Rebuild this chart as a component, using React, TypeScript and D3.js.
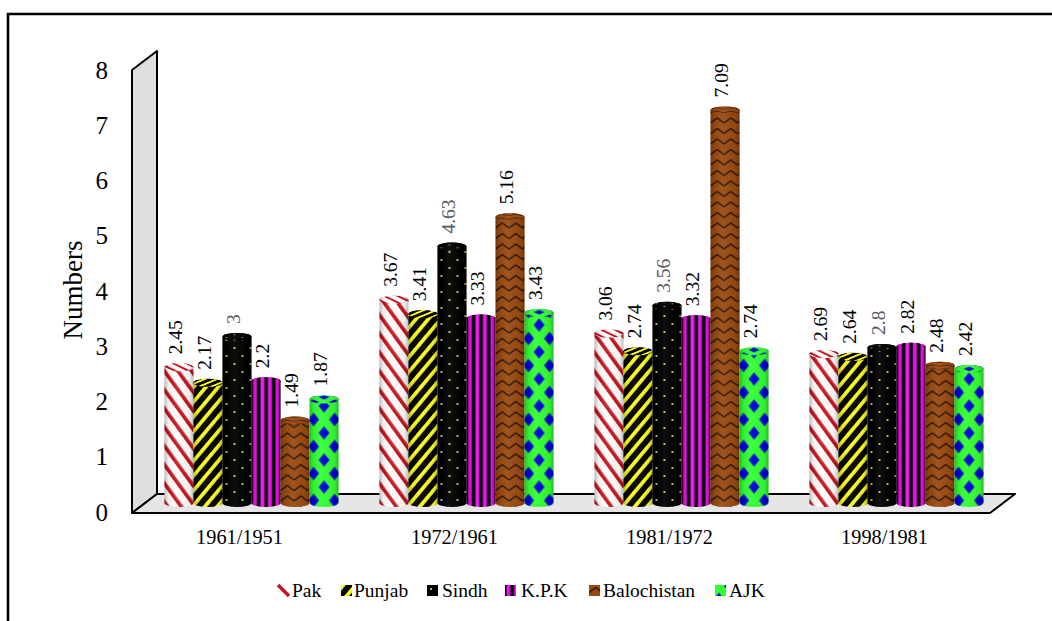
import React from "react";
import * as d3 from "d3";

const categories = ["1961/1951", "1972/1961", "1981/1972", "1998/1981"];
const seriesNames = ["Pak", "Punjab", "Sindh", "K.P.K", "Balochistan", "AJK"];
const pak = [2.45, 3.67, 3.06, 2.69];
const punjab = [2.17, 3.41, 2.74, 2.64];
const sindh = [3, 4.63, 3.56, 2.8];
const kpk = [2.2, 3.33, 3.32, 2.82];
const balochistan = [1.49, 5.16, 7.09, 2.48];
const ajk = [1.87, 3.43, 2.74, 2.42];
const seriesValues = [pak, punjab, sindh, kpk, balochistan, ajk];
const labelText = [
  ["2.45", "3.67", "3.06", "2.69"],
  ["2.17", "3.41", "2.74", "2.64"],
  ["3", "4.63", "3.56", "2.8"],
  ["2.2", "3.33", "3.32", "2.82"],
  ["1.49", "5.16", "7.09", "2.48"],
  ["1.87", "3.43", "2.74", "2.42"],
];
const labelColors = ["#000", "#000", "#595959", "#000", "#000", "#000"];
const yTicks = [0, 1, 2, 3, 4, 5, 6, 7, 8];

const serif = "'Liberation Serif', serif";
const W = 1052;
const H = 621;

const yBar = d3.scaleLinear().domain([0, 8]).range([503, 60]);
const yAxis = d3.scaleLinear().domain([0, 8]).range([512, 70]);
const x0 = d3.scaleBand<string>().domain(categories).range([144, 1004]).paddingInner(0.19).paddingOuter(0.095);
const x1 = d3.scaleBand<string>().domain(seriesNames).range([0, x0.bandwidth()]);
const legendKeyX = [278, 341, 427, 505, 589, 715];
const legendTextX = [292, 354, 442, 521, 603, 729];

function cylinder(w: number, top: number, bottom: number, ry: number) {
  const rx = w / 2;
  return `M0,${top}A${rx},${ry} 0 0 1 ${w},${top}L${w},${bottom}A${rx},${ry} 0 0 1 0,${bottom}Z`;
}

function Pat({ id, w, h, tf, children }: any) {
  return (
    <pattern id={id} width={w} height={h} patternUnits="userSpaceOnUse" patternTransform={tf}>
      {children}
    </pattern>
  );
}

function patternSet(prefix: string, s: string) {
  return [
    <Pat key="0" id={`${prefix}0`} w={11} h={10} tf={`${s} rotate(-36)`}>
      <rect width={11} height={10} fill="#fff" />
      <rect width={3.7} height={10} fill="#c8141c" />
    </Pat>,
    <Pat key="1" id={`${prefix}1`} w={9.5} h={10} tf={`${s} rotate(40)`}>
      <rect width={9.5} height={10} fill="#000" />
      <rect width={3.7} height={10} fill="#ffff1e" />
    </Pat>,
    <Pat key="2" id={`${prefix}2`} w={16} h={16} tf={s}>
      <rect width={16} height={16} fill="#000" />
      <circle cx={4} cy={4} r={1.1} fill="#e6e660" />
      <circle cx={12} cy={12} r={1.1} fill="#e6e660" />
    </Pat>,
    <Pat key="3" id={`${prefix}3`} w={7.5} h={10} tf={s}>
      <rect width={7.5} height={10} fill="#000" />
      <rect x={1.5} width={3.8} height={10} fill="#f010f0" />
    </Pat>,
    <Pat key="4" id={`${prefix}4`} w={13.5} h={10.5} tf={s}>
      <rect width={13.5} height={10.5} fill="#9a4a10" />
      <path d="M0,7.5L6.75,2.5L13.5,7.5" fill="none" stroke="#241005" strokeWidth={1.3} strokeLinejoin="round" />
    </Pat>,
    <Pat key="5" id={`${prefix}5`} w={21} h={27} tf={`${s} translate(4,-12.5)`}>
      <rect width={21} height={27} fill="#33ff33" />
      <path d="M10.5,6.8L16,13.5L10.5,20.2L5,13.5Z" fill="#0000d8" />
      <path d="M0,-6.7L5.5,0L0,6.7L-5.5,0Z M21,-6.7L26.5,0L21,6.7L15.5,0Z M0,20.3L5.5,27L0,33.7L-5.5,27Z M21,20.3L26.5,27L21,33.7L15.5,27Z" fill="#0000d8" />
    </Pat>,
  ];
}

export default function App() {
  const w = x1.bandwidth();
  const floor = "M132,513L157,494L1015,494L990,513Z";
  const wall = "M132,513L132,70L157,51L157,494Z";
  return (
    <svg width={W} height={H} style={{ position: "absolute", left: 0, top: 0, background: "#fff" }}>
      <defs>
        {patternSet("p", "")}
        {patternSet("t", "scale(1,0.35)")}
        <linearGradient id="shade" x1="0" x2="1" y1="0" y2="0">
          <stop offset="0" stopColor="#000" stopOpacity={0.26} />
          <stop offset="0.14" stopColor="#000" stopOpacity={0.06} />
          <stop offset="0.4" stopColor="#fff" stopOpacity={0.06} />
          <stop offset="0.86" stopColor="#000" stopOpacity={0.06} />
          <stop offset="1" stopColor="#000" stopOpacity={0.26} />
        </linearGradient>
      </defs>

      <path d={`M8,${H}L8,14L${W},14`} fill="none" stroke="#000" strokeWidth={2.6} />

      <path d={wall} fill="#dedede" stroke="#000" strokeWidth={2} strokeLinejoin="round" />
      <path d={floor} fill="#e6e6e6" stroke="#000" strokeWidth={2} strokeLinejoin="round" />

      {yTicks.map((t) => (
        <text key={t} x={108} y={yAxis(t)} dy="0.34em" textAnchor="end" fontFamily={serif} fontSize={25} fill="#000">
          {t}
        </text>
      ))}
      <text transform="translate(73,290) rotate(-90)" textAnchor="middle" dy="0.34em" fontFamily={serif} fontSize={27} fill="#000">
        Numbers
      </text>

      {categories.map((c, ci) => (
        <g key={c}>
          {seriesNames.map((s, si) => {
            const v = seriesValues[si][ci];
            const x = (x0(c) as number) + (x1(s) as number);
            const top = yBar(v);
            const bottom = yBar(0);
            const d = cylinder(w, top, bottom, 4);
            return (
              <g key={s} transform={`translate(${x},0)`}>
                <path d={d} fill={`url(#p${si})`} />
                <path d={d} fill="url(#shade)" />
                <ellipse cx={w / 2} cy={top} rx={w / 2} ry={4} fill={`url(#t${si})`} />
                <ellipse cx={w / 2} cy={top} rx={w / 2} ry={4} fill="url(#shade)" />
              </g>
            );
          })}
        </g>
      ))}

      {categories.map((c, ci) =>
        seriesNames.map((s, si) => {
          const v = seriesValues[si][ci];
          const cx = (x0(c) as number) + (x1(s) as number) + w / 2 - 4;
          return (
            <text
              key={c + s}
              transform={`translate(${cx},${yBar(v) - 13}) rotate(-90)`}
              dy="0.34em"
              fontFamily={serif}
              fontSize={19.5}
              fill={labelColors[si]}
            >
              {labelText[si][ci]}
            </text>
          );
        })
      )}

      {categories.map((c) => (
        <text key={c} x={(x0(c) as number) + x0.bandwidth() / 2 - 12} y={537} dy="0.34em" textAnchor="middle" fontFamily={serif} fontSize={20.3} fill="#000">
          {c}
        </text>
      ))}

      {seriesNames.map((s, si) => (
        <g key={s}>
          {si === 0 ? (
            <path d={`M${legendKeyX[si]},585L${legendKeyX[si] + 11},596`} stroke="#c8141c" strokeWidth={3.6} />
          ) : (
            <g transform={`translate(${legendKeyX[si]},585)`}>
              <rect width={11} height={11} fill={`url(#p${si})`} />
            </g>
          )}
          <text x={legendTextX[si]} y={590} dy="0.34em" fontFamily={serif} fontSize={19.5} fill="#000">
            {s}
          </text>
        </g>
      ))}
    </svg>
  );
}
